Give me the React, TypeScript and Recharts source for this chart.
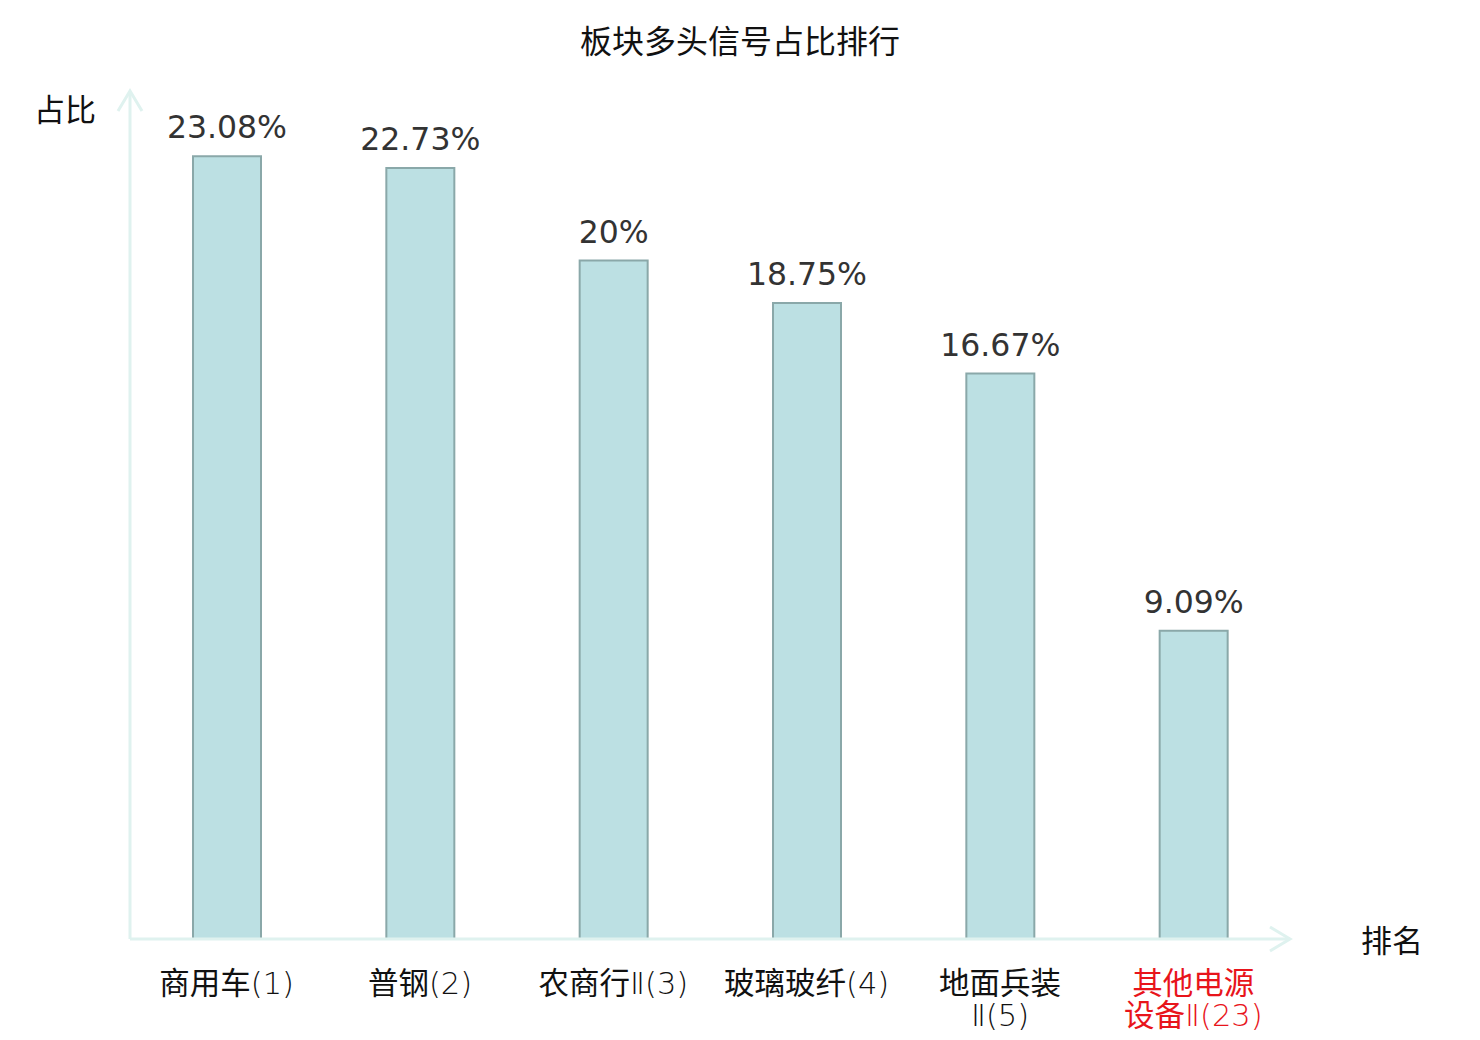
import React from "react";
import { BarChart, Bar, XAxis, YAxis, LabelList } from "recharts";

const categories = ["商用车(1)", "普钢(2)", "农商行Ⅱ(3)", "玻璃玻纤(4)", "地面兵装\nⅡ(5)", "其他电源\n设备Ⅱ(23)"];
const ratios = [23.08, 22.73, 20, 18.75, 16.67, 9.09];
const highlighted = ["其他电源\n设备Ⅱ(23)"];

const data = categories.map((name, i) => ({ name, value: ratios[i] }));

const FONT = "'DejaVu Sans', 'Noto Sans CJK SC', sans-serif";
const CJK = "'Noto Sans CJK SC', sans-serif";
const AXIS_COLOR = "#dff2ef";

// split a line into CJK runs (regular) and latin runs (thin)
function runs(line: string) {
  return line.match(/[\u4e00-\u9fff]+|[^\u4e00-\u9fff]+/g) || [];
}

function CategoryTick(props: any) {
  const { x, y, payload } = props;
  const lines = String(payload.value).split("\n");
  const red = highlighted.includes(payload.value);
  return (
    <text x={x} y={y + 47} textAnchor="middle" fontSize={30.5} fill={red ? "#e8141b" : "#111"}>
      {lines.map((l, i) =>
        runs(l).map((r, j) => {
          const cjk = /[\u4e00-\u9fff]/.test(r);
          return (
            <tspan
              key={`${i}-${j}`}
              x={j === 0 ? x : undefined}
              dy={j === 0 && i > 0 ? 32 : undefined}
              fontFamily={cjk ? CJK : FONT}
              fontWeight={cjk ? 400 : 200}
            >
              {r}
            </tspan>
          );
        })
      )}
    </text>
  );
}

export default function App() {
  return (
    <div style={{ position: "absolute", left: 0, top: 0, width: 1480, height: 1040, fontFamily: FONT }}>
      <div
        style={{
          position: "absolute",
          left: 0,
          top: 19,
          width: 1480,
          lineHeight: "40px",
          textAlign: "center",
          fontSize: 32,
          fontFamily: CJK,
          color: "#111",
        }}
      >
        板块多头信号占比排行
      </div>
      <div
        style={{
          position: "absolute",
          left: 34,
          top: 88,
          lineHeight: "40px",
          fontSize: 31,
          fontFamily: CJK,
          color: "#111",
        }}
      >
        占比
      </div>
      <BarChart
        width={1480}
        height={1040}
        data={data}
        margin={{ top: 91, left: 129, right: 190, bottom: 100 }}
      >
        <defs>
          <marker
            id="arrowHead"
            markerUnits="userSpaceOnUse"
            markerWidth={28}
            markerHeight={32}
            viewBox="-24 -16 28 32"
            refX={0}
            refY={0}
            orient="auto-start-reverse"
          >
            <path d="M -20 -12 L 0 0 L -20 12" fill="none" stroke={AXIS_COLOR} strokeWidth={3} />
          </marker>
        </defs>
        <XAxis
          dataKey="name"
          interval={0}
          height={1}
          tickLine={false}
          tick={<CategoryTick />}
          axisLine={{ stroke: AXIS_COLOR, strokeWidth: 3, markerEnd: "url(#arrowHead)" } as any}
          label={{
            value: "排名",
            content: (p: any) => (
              <text
                x={p.viewBox.x + p.viewBox.width + 102}
                y={p.viewBox.y + 13}
                textAnchor="middle"
                fontSize={31}
                fontFamily={CJK}
                fill="#111"
              >
                排名
              </text>
            ),
          }}
        />
        <YAxis
          type="number"
          domain={[0, 25]}
          width={1}
          tick={false}
          tickLine={false}
          axisLine={{ stroke: AXIS_COLOR, strokeWidth: 3, markerStart: "url(#arrowHead)" } as any}
        />
        <Bar
          dataKey="value"
          barSize={68}
          fill="#bce0e3"
          stroke="#8aa8a9"
          strokeWidth={2}
          isAnimationActive={false}
        >
          <LabelList
            dataKey="value"
            position="top"
            offset={18}
            fontSize={31.5}
            fontFamily={FONT}
            fill="#333"
            formatter={(v: any) => `${v}%`}
          />
        </Bar>
      </BarChart>
    </div>
  );
}
